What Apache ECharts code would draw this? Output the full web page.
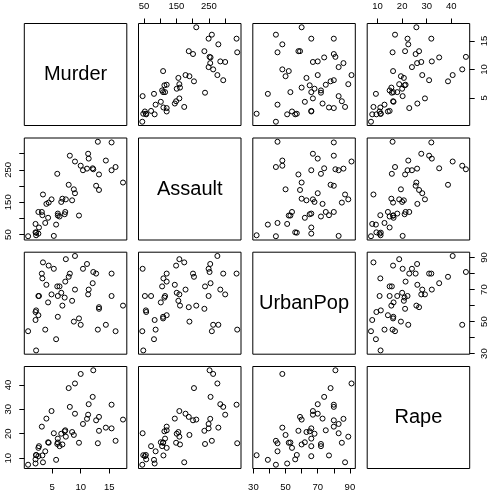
<!DOCTYPE html>
<html>
<head>
<meta charset="utf-8">
<script src="https://cdn.jsdelivr.net/npm/echarts@6/dist/echarts.min.js"></script>
<style>
  html, body { margin: 0; padding: 0; background: #fff; }
  #chart { width: 494px; height: 495px; }
</style>
</head>
<body>
<div id="chart"></div>
<script>
// USArrests, 50 states
var names = ['Murder', 'Assault', 'UrbanPop', 'Rape'];
var murder = [13.2, 10.0, 8.1, 8.8, 9.0, 7.9, 3.3, 5.9, 15.4, 17.4, 5.3, 2.6, 10.4, 7.2, 2.2, 6.0, 9.7, 15.4, 2.1, 11.3,
  4.4, 12.1, 2.7, 16.1, 9.0, 6.0, 4.3, 12.2, 2.1, 7.4, 11.4, 11.1, 13.0, 0.8, 7.3, 6.6, 4.9, 6.3, 3.4, 14.4,
  3.8, 13.2, 12.7, 3.2, 2.2, 8.5, 4.0, 5.7, 2.6, 6.8];
var assault = [236, 263, 294, 190, 276, 204, 110, 238, 335, 211, 46, 120, 249, 113, 56, 115, 109, 249, 83, 300,
  149, 255, 72, 259, 178, 109, 102, 252, 57, 159, 285, 254, 337, 45, 120, 151, 159, 106, 174, 279,
  86, 188, 201, 120, 48, 156, 145, 81, 53, 161];
var urbanPop = [58, 48, 80, 50, 91, 78, 77, 72, 80, 60, 83, 54, 83, 65, 57, 66, 52, 66, 51, 67,
  85, 74, 66, 44, 70, 53, 62, 81, 56, 89, 70, 86, 45, 44, 75, 68, 67, 72, 87, 48,
  45, 59, 80, 80, 32, 63, 73, 39, 66, 60];
var rape = [21.2, 44.5, 31.0, 19.5, 40.6, 38.7, 11.1, 15.8, 31.9, 25.8, 20.2, 14.2, 24.0, 21.0, 11.3, 18.0, 16.3, 22.2, 7.8, 27.8,
  16.3, 35.1, 14.9, 17.1, 28.2, 16.4, 16.5, 46.0, 9.5, 18.8, 32.1, 26.1, 16.1, 7.3, 21.4, 20.0, 29.3, 14.9, 8.3, 22.5,
  12.8, 26.9, 25.5, 22.9, 11.2, 20.7, 26.2, 9.3, 10.8, 15.6];
var vars = [murder, assault, urbanPop, rape];

var tickValues = [[5, 10, 15], [50, 100, 150, 200, 250, 300], [30, 40, 50, 60, 70, 80, 90], [10, 20, 30, 40]];
var labelValues = [[5, 10, 15], [50, 150, 250], [30, 50, 70, 90], [10, 20, 30, 40]];

// R-style range: data range padded by 4% each side
var lo = [], hi = [];
vars.forEach(function (v) {
  var a = Math.min.apply(null, v), b = Math.max.apply(null, v), p = (b - a) * 0.04;
  lo.push(a - p); hi.push(b + p);
});

var colLeft = [24.3, 138.5, 252.8, 367.2];
var rowTop = [23.5, 138, 252.2, 366.5];
var W = 102.5, H = 102;

var font = 'Liberation Sans';
var grids = [], xAxes = [], yAxes = [], series = [], graphics = [];

for (var i = 0; i < 4; i++) {
  for (var j = 0; j < 4; j++) {
    var idx = grids.length;
    var diag = i === j;
    grids.push({
      left: colLeft[j], top: rowTop[i], width: W, height: H,
      show: true, borderColor: '#000', borderWidth: 1, backgroundColor: 'transparent'
    });
    var showTop = !diag && i === 0 && j % 2 === 1;
    var showBottom = !diag && i === 3 && j % 2 === 0;
    var showLeft = !diag && j === 0 && i % 2 === 1;
    var showRight = !diag && j === 3 && i % 2 === 0;
    xAxes.push({
      gridIndex: idx, type: 'value', min: lo[j], max: hi[j], show: !diag,
      position: showTop ? 'top' : 'bottom',
      axisLine: { show: false }, splitLine: { show: false },
      axisTick: { show: showTop || showBottom, customValues: tickValues[j], length: 5, lineStyle: { color: '#000' } },
      axisLabel: { show: showTop || showBottom, customValues: labelValues[j], margin: showTop ? 12.5 : 14,
        fontSize: 9.5, fontFamily: font, color: '#000' }
    });
    yAxes.push({
      gridIndex: idx, type: 'value', min: lo[i], max: hi[i], show: !diag,
      position: showRight ? 'right' : 'left',
      axisLine: { show: false }, splitLine: { show: false },
      axisTick: { show: showLeft || showRight, customValues: tickValues[i], length: 5, lineStyle: { color: '#000' } },
      axisLabel: { show: showLeft || showRight, customValues: labelValues[i], rotate: 90, margin: showRight ? 10 : 11,
        fontSize: 9.5, fontFamily: font, color: '#000' }
    });
    if (diag) {
      graphics.push({
        type: 'text', x: colLeft[j] + W / 2, y: rowTop[i] + H / 2,
        style: { text: names[i], font: '20px "Liberation Sans"', fill: '#000',
          textAlign: 'center', textVerticalAlign: 'middle', align: 'center', verticalAlign: 'middle' }
      });
    } else {
      series.push({
        type: 'scatter', xAxisIndex: idx, yAxisIndex: idx, silent: true,
        symbol: 'circle', symbolSize: 5,
        itemStyle: { color: 'rgba(0,0,0,0)', borderColor: '#000', borderWidth: 1, opacity: 1 },
        data: vars[j].map(function (v, k) { return [v, vars[i][k]]; })
      });
    }
  }
}

var chart = echarts.init(document.getElementById('chart'), null, { renderer: 'canvas' });
chart.setOption({
  animation: false,
  backgroundColor: '#fff',
  grid: grids,
  xAxis: xAxes,
  yAxis: yAxes,
  series: series,
  graphic: graphics
});
</script>
</body>
</html>
